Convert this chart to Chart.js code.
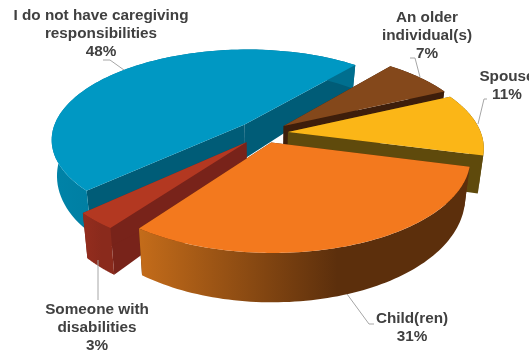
<!DOCTYPE html>
<html>
<head>
<meta charset="utf-8">
<title>Caregiving responsibilities</title>
<script src="https://cdn.jsdelivr.net/npm/chart.js@4"></script>
<style>
  html, body { margin: 0; padding: 0; background: #fff; overflow: hidden; }
  canvas { display: block; }
</style>
</head>
<body>
<canvas id="grafica" width="529" height="354"></canvas>
<script>
const categories = [
    ['I do not have caregiving', 'responsibilities'],
    ['An older', 'individual(s)'],
    ['Spouse'],
    ['Child(ren)'],
    ['Someone with', 'disabilities']
];
const values = [48, 7, 11, 31, 3];

// slice styling, same order as categories
const topColors = ['#0098c3', '#84481b', '#fbb617', '#f3791e', '#b33821'];
const cutColors = ['#005c77', '#3e1e0b', '#5f4a0c', '#5c2f0c', '#78231a'];
const wallColors = [
    ['#0083a8', '#006f8f'],
    ['#3e1e0b', '#3e1e0b'],
    ['#5f4a0c', '#5f4a0c'],
    ['#c46c1a', '#5c2f0c'],
    ['#942d1e', '#8a2a1c']
];
const explode = [0.14, 0.13, 0.125, 0.11, 0.135];
const drawOrder = [0, 1, 2, 4, 3];

// label centres and leader lines, same order as categories
const labelX = [101, 427, 507, 412, 97];
const labelY = [16, 18, 77, 319, 310];
const leaders = [
    [[103, 60], [110, 60], [124, 70]],
    [[410, 58], [415, 58], [420, 77]],
    [[487, 99], [484, 99], [478, 124]],
    [[347, 294], [369, 324], [374, 324]],
    [[98, 260], [98, 300]]
];

// camera over the pie: unit circle on the table, z = 1 is the underside
const camera = { cx: 264, cy: 133, sx: 193, sy: 89.5, tilt: 0.16, shrink: 0.025, depth: 35, depthSlope: 13 };

function project(wx, wy, wz) {
    const w = 1 / (1 - camera.tilt * wy);
    return {
        x: camera.cx + camera.sx * wx * w * (1 - camera.shrink * wz),
        y: camera.cy + camera.sy * wy * w + wz * (camera.depth + camera.depthSlope * wy)
    };
}

// canvas only has affine transforms, so the arc element paints through this
// wrapper: path points go through the camera, everything else is passed on
function projectedContext(ctx, el, ox, oy) {
    const r = el.outerRadius;
    const map = (x, y) => project(ox + (x - el.x) / r, oy + (y - el.y) / r, 0);
    return new Proxy(ctx, {
        get(target, prop) {
            if (prop === 'arc') {
                return (x, y, radius, a0, a1) => {
                    const steps = 80;
                    for (let s = 0; s <= steps; s++) {
                        const a = a0 + (a1 - a0) * s / steps;
                        const p = map(x + radius * Math.cos(a), y + radius * Math.sin(a));
                        target.lineTo(p.x, p.y);
                    }
                };
            }
            if (prop === 'lineTo' || prop === 'moveTo') {
                return (x, y) => {
                    const p = map(x, y);
                    target[prop](p.x, p.y);
                };
            }
            const value = target[prop];
            return typeof value === 'function' ? value.bind(target) : value;
        },
        set(target, prop, value) {
            target[prop] = value;
            return true;
        }
    });
}

function fillPoly(ctx, points, style) {
    ctx.fillStyle = style;
    ctx.beginPath();
    points.forEach((p, i) => i ? ctx.lineTo(p.x, p.y) : ctx.moveTo(p.x, p.y));
    ctx.closePath();
    ctx.fill();
}

function drawSlice(ctx, el, i) {
    const start = el.startAngle, end = el.endAngle;
    const mid = (start + end) / 2;
    const ox = Math.cos(mid) * explode[i];
    const oy = Math.sin(mid) * explode[i];
    const rimAt = (a, wz) => project(ox + Math.cos(a), oy + Math.sin(a), wz);
    const apexTop = project(ox, oy, 0);
    const apexBottom = project(ox, oy, 1);

    // cut faces
    fillPoly(ctx, [apexTop, rimAt(start, 0), rimAt(start, 1), apexBottom], cutColors[i]);
    fillPoly(ctx, [apexTop, rimAt(end, 0), rimAt(end, 1), apexBottom], cutColors[i]);

    // outer wall
    const rim = [];
    const steps = 80;
    for (let s = 0; s <= steps; s++) rim.push(rimAt(start + (end - start) * s / steps, 0));
    for (let s = steps; s >= 0; s--) rim.push(rimAt(start + (end - start) * s / steps, 1));
    const xs = rim.map(p => p.x);
    const left = Math.min(...xs), right = Math.max(...xs);
    const grad = ctx.createLinearGradient(left, 0, left + (right - left) * 0.6, 0);
    grad.addColorStop(0, wallColors[i][0]);
    grad.addColorStop(1, wallColors[i][1]);
    fillPoly(ctx, rim, grad);

    // top face
    el.draw(projectedContext(ctx, el, ox, oy));
}

const piePlugin = {
    id: 'pie3d',
    beforeDatasetDraw() {
        return false;
    },
    afterDatasetsDraw(chart) {
        const ctx = chart.ctx;
        const arcs = chart.getDatasetMeta(0).data;
        drawOrder.forEach(i => drawSlice(ctx, arcs[i], i));

        // leader lines
        ctx.save();
        ctx.strokeStyle = '#a6a6a6';
        ctx.lineWidth = 1;
        leaders.forEach(line => {
            ctx.beginPath();
            line.forEach((p, i) => i ? ctx.lineTo(p[0], p[1]) : ctx.moveTo(p[0], p[1]));
            ctx.stroke();
        });

        // labels
        ctx.fillStyle = '#404040';
        ctx.font = 'bold 15.3px "Liberation Sans", Arial, sans-serif';
        ctx.textAlign = 'center';
        ctx.textBaseline = 'middle';
        categories.forEach((lines, i) => {
            const text = lines.concat(values[i] + '%');
            text.forEach((t, k) => ctx.fillText(t, labelX[i], labelY[i] + k * 18));
        });
        ctx.restore();
    }
};

new Chart(document.getElementById('grafica'), {
    type: 'pie',
    data: {
        labels: categories,
        datasets: [{
            data: values,
            backgroundColor: topColors,
            borderWidth: 0
        }]
    },
    options: {
        responsive: false,
        animation: false,
        rotation: 227,
        layout: { padding: 0 },
        plugins: {
            legend: { display: false },
            tooltip: { enabled: false }
        }
    },
    plugins: [piePlugin]
});
</script>
</body>
</html>
